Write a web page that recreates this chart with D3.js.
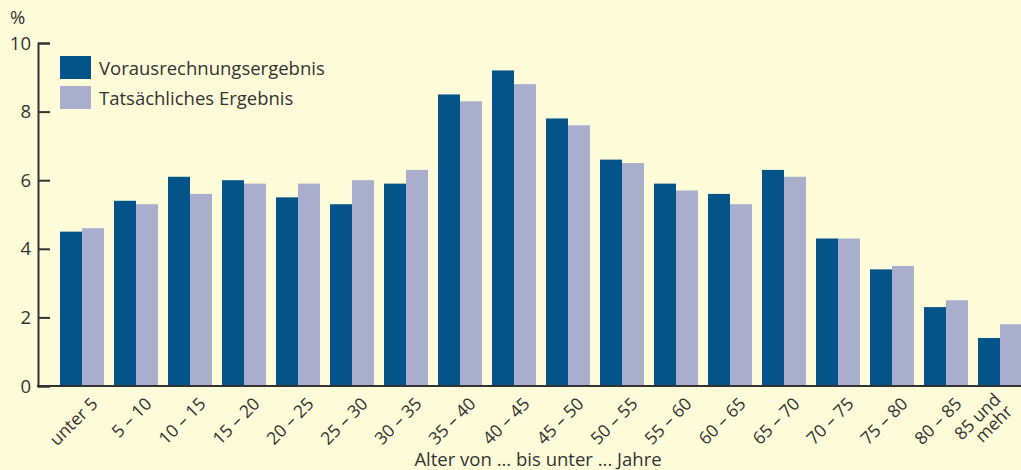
<!DOCTYPE html>
<html lang="de">
<head>
  <meta charset="UTF-8" />
  <title>Altersaufbau</title>
  <script src="https://d3js.org/d3.v7.min.js"></script>
  <style>
    html, body { margin: 0; padding: 0; background: #fefcd8; }
    svg { display: block; font-family: "Open Sans", sans-serif; }
  </style>
</head>
<body>
  <svg width="1021" height="470"></svg>
  <script>
    // data
    const ageGroups = ["unter 5", "5 – 10", "10 – 15", "15 – 20", "20 – 25", "25 – 30",
      "30 – 35", "35 – 40", "40 – 45", "45 – 50", "50 – 55", "55 – 60", "60 – 65",
      "65 – 70", "70 – 75", "75 – 80", "80 – 85", "85 und|mehr"];
    const projected = [4.5, 5.4, 6.1, 6.0, 5.5, 5.3, 5.9, 8.5, 9.2, 7.8, 6.6, 5.9, 5.6, 6.3, 4.3, 3.4, 2.3, 1.4];
    const actual    = [4.6, 5.3, 5.6, 5.9, 5.9, 6.0, 6.3, 8.3, 8.8, 7.6, 6.5, 5.7, 5.3, 6.1, 4.3, 3.5, 2.5, 1.8];
    const seriesNames = ["Vorausrechnungsergebnis", "Tatsächliches Ergebnis"];
    const yTicks = [0, 2, 4, 6, 8, 10];

    const colors = ["#04548a", "#a8aecb"];
    const axisColor = "#333";
    const fontSize = 18.5;

    const svg = d3.select("svg");

    const x = d3.scaleBand()
      .domain(ageGroups)
      .range([55, 1027])
      .paddingInner(10 / 54)
      .paddingOuter(5 / 54);

    const xSub = d3.scaleBand()
      .domain([0, 1])
      .range([0, x.bandwidth()]);

    const y = d3.scaleLinear().domain([0, 10]).range([386, 43]);

    // bars
    const groups = svg.append("g")
      .selectAll("g")
      .data(ageGroups)
      .join("g")
      .attr("transform", d => `translate(${x(d)},0)`);

    groups.selectAll("rect")
      .data((d, i) => [projected[i], actual[i]])
      .join("rect")
      .attr("x", (d, j) => xSub(j))
      .attr("width", xSub.bandwidth())
      .attr("y", d => y(d))
      .attr("height", d => y(0) - y(d))
      .attr("fill", (d, j) => colors[j]);

    // y axis
    const yAxis = svg.append("g")
      .attr("transform", "translate(38,0)")
      .call(d3.axisRight(y).tickValues(yTicks).tickSize(12).tickFormat(""));
    yAxis.select(".domain").attr("stroke", axisColor).attr("stroke-width", 2);
    yAxis.selectAll(".tick line").attr("stroke", axisColor).attr("stroke-width", 2);

    svg.append("g")
      .selectAll("text")
      .data(yTicks)
      .join("text")
      .attr("x", 31)
      .attr("y", d => y(d))
      .attr("dy", "0.36em")
      .attr("text-anchor", "end")
      .attr("font-size", fontSize)
      .attr("fill", axisColor)
      .text(d => d);

    svg.append("text")
      .attr("x", 10).attr("y", 24)
      .attr("font-size", fontSize)
      .attr("fill", axisColor)
      .text("%");

    // x axis line
    svg.append("line")
      .attr("x1", 37).attr("x2", 1021)
      .attr("y1", y(0)).attr("y2", y(0))
      .attr("stroke", axisColor).attr("stroke-width", 2);

    // x tick labels, rotated
    const xLabels = svg.append("g")
      .selectAll("text")
      .data(ageGroups)
      .join("text")
      .attr("transform", d => {
        const multi = d.includes("|");
        const cx = x(d) + x.bandwidth() / 2 + (multi ? 3 : 10);
        return `translate(${cx},${multi ? 402 : 398}) rotate(-45)`;
      })
      .attr("text-anchor", "end")
      .attr("font-size", 17.5)
      .attr("fill", axisColor);

    xLabels.each(function(d) {
      const parts = d.split("|");
      const t = d3.select(this);
      parts.forEach((p, k) => {
        t.append("tspan")
          .attr("x", 0)
          .attr("dy", k === 0 ? (parts.length > 1 ? "-0.1em" : "0.55em") : "0.95em")
          .text(p);
      });
    });

    svg.append("text")
      .attr("x", 538).attr("y", 466)
      .attr("text-anchor", "middle")
      .attr("font-size", fontSize)
      .attr("fill", axisColor)
      .text("Alter von ... bis unter ... Jahre");

    // legend
    const legend = svg.append("g")
      .selectAll("g")
      .data(seriesNames)
      .join("g")
      .attr("transform", (d, i) => `translate(60,${56 + i * 30})`);
    legend.append("rect")
      .attr("width", 31).attr("height", 23)
      .attr("fill", (d, i) => colors[i]);
    legend.append("text")
      .attr("x", 39).attr("y", 12)
      .attr("dy", "0.36em")
      .attr("font-size", fontSize)
      .attr("fill", axisColor)
      .text(d => d);
  </script>
</body>
</html>
